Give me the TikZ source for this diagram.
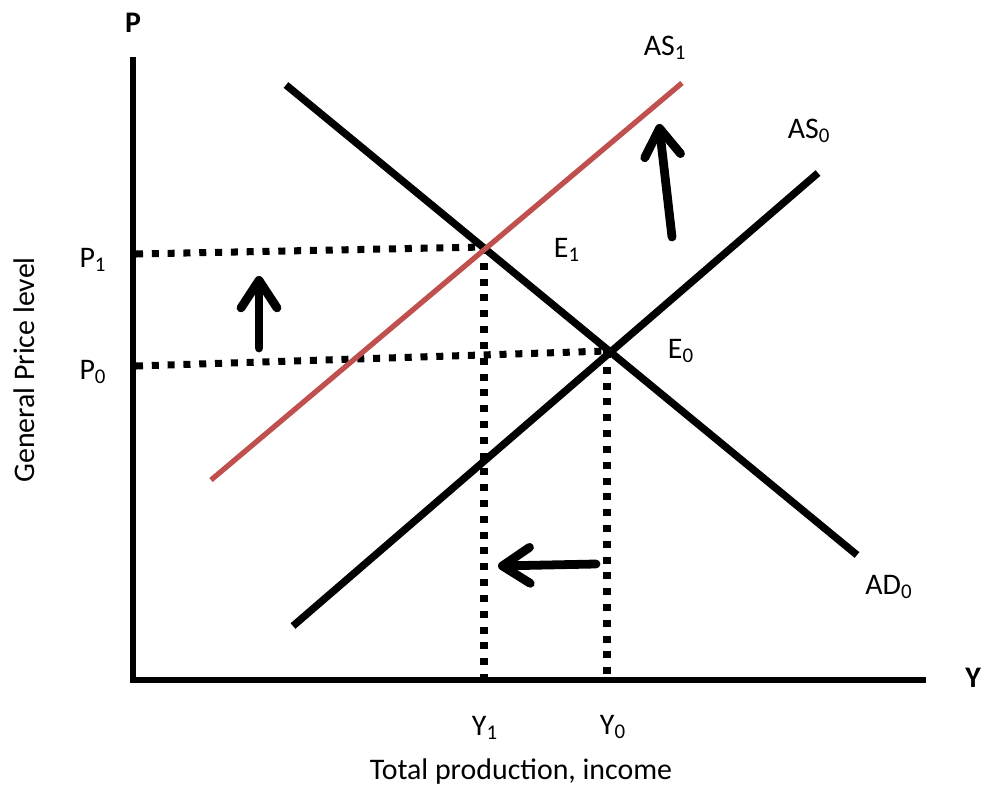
\documentclass[tikz,border=0pt]{standalone}
\usepackage{fontspec}
\setmainfont{Carlito}
\usetikzlibrary{arrows.meta}
\definecolor{ascurve}{HTML}{C0504D}

\begin{document}
\begin{tikzpicture}[
  x=0.02cm, y=-0.02cm,
  every node/.style={font=\fontsize{17}{20}\selectfont, inner sep=0pt},
  axis/.style={line width=3.8pt, draw=black},
  curve/.style={line width=4.2pt, draw=black},
  shifted/.style={line width=3pt, draw=ascurve},
  guide/.style={line width=4pt, dash pattern=on 4pt off 5pt},
  move/.style={line width=5pt, line cap=round,
     -{Straight Barb[length=0.55cm, width=0.72cm, line cap=round, line join=round]}},
  axlabel/.style={font=\fontsize{17}{20}\selectfont\bfseries},
]
\useasboundingbox (0,0) rectangle (984,787);
% --- axes ---
\coordinate (o) at (133,680);
\coordinate (ptop) at (133,57);
\coordinate (yend) at (926,680);
\draw[axis] (ptop) -- (o) -- (yend);
\node[axlabel] (plab) at (133,23) {P};
\node[axlabel] (ylab) at (973,678) {Y};
\node (xtitle) at (521,772) {Total production, income};
\node[rotate=90] (ytitle) at (24,370) {General Price level};
% --- equilibria ---
\coordinate (e1) at (484,247);
\coordinate (e0) at (607,351);
\coordinate (p1) at (136,254);
\coordinate (p0) at (136,366);
\coordinate (y1) at (484,677);
\coordinate (y0) at (607,677);
% --- guide lines ---
\draw[guide] (p1) -- (e1);
\draw[guide] (p0) -- (e0);
\draw[guide] (e1) -- (y1);
\draw[guide] (e0) -- (y0);
% --- curves ---
\coordinate (ad0a) at (286,85);
\coordinate (ad0b) at (857,555);
\coordinate (as0a) at (293,626);
\coordinate (as0b) at (818,173);
\coordinate (as1a) at (211,480);
\coordinate (as1b) at (682,83);
\draw[curve] (ad0a) -- (ad0b);
\draw[curve] (as0a) -- (as0b);
\draw[shifted] (as1a) -- (as1b);
% --- labels ---
\node (lp1) at (93,260) {P\textsubscript{1}};
\node (lp0) at (93,372) {P\textsubscript{0}};
\node (ly1) at (485,728) {Y\textsubscript{1}};
\node (ly0) at (613,727) {Y\textsubscript{0}};
\node (le1) at (567,250) {E\textsubscript{1}};
\node (le0) at (681,351) {E\textsubscript{0}};
\node (las1) at (665,48) {AS\textsubscript{1}};
\node (las0) at (809,131) {AS\textsubscript{0}};
\node (lad0) at (889,587) {AD\textsubscript{0}};
% --- shifts ---
\coordinate (upa) at (259,348);
\coordinate (upb) at (259,276);
\coordinate (asa) at (672,237);
\coordinate (asb) at (659,124);
\coordinate (lfa) at (596,564);
\coordinate (lfb) at (498,566);
\draw[move] (upa) -- (upb);
\draw[move] (asa) -- (asb);
\draw[move] (lfa) -- (lfb);
\end{tikzpicture}
\end{document}
